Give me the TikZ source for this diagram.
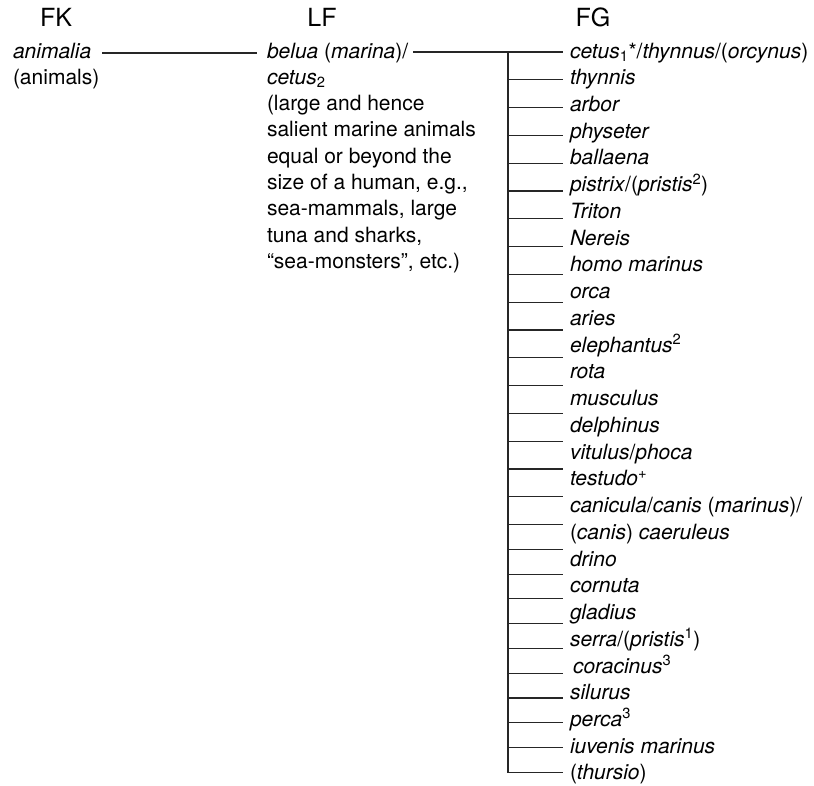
\documentclass[tikz,border=0pt]{standalone}
\usepackage{fontspec}
\setmainfont{TeX Gyre Heros}
\usetikzlibrary{calc}
\newcommand{\sups}[1]{\textsuperscript{\upshape #1}}
\newcommand{\subs}[1]{\textsubscript{\upshape #1}}
\begin{document}
\begin{tikzpicture}[x=1pt,y=-1pt,
  txt/.style={inner sep=0pt,outer sep=0pt,anchor=base west,font=\fontsize{21}{26}\selectfont,text=black},
  head/.style={inner sep=0pt,anchor=base,font=\fontsize{25}{30}\selectfont,text=black},
  conn/.style={draw=black!85,line width=1.1pt}]
\useasboundingbox (0,0) rectangle (814,785);
\def\rs{26.74}
\def\rb{58}
\def\ls{26.3}
% headers
\node[head] (hfk) at (56,26.7) {FK};
\node[head] (hlf) at (322,26.7) {LF};
\node[head] (hfg) at (593,26.7) {FG};
% FK column
\node[txt] (fk0) at (13,{\rb}) {\textit{animalia}};
\node[txt] (fk1) at (13,{\rb+\rs}) {(animals)};
% LF column
\node[txt] (lf0) at (267,{\rb}) {\textit{belua} (\textit{marina})/};
\node[txt] (lf1) at (267,{\rb+1*\ls}) {\textit{cetus}\subs{2}};
\node[txt] (lf2) at (267,{\rb+2*\ls}) {(large and hence};
\node[txt] (lf3) at (267,{\rb+3*\ls}) {salient marine animals};
\node[txt] (lf4) at (267,{\rb+4*\ls}) {equal or beyond the};
\node[txt] (lf5) at (267,{\rb+5*\ls}) {size of a human, e.g.,};
\node[txt] (lf6) at (267,{\rb+6*\ls}) {sea-mammals, large};
\node[txt] (lf7) at (267,{\rb+7*\ls}) {tuna and sharks,};
\node[txt] (lf8) at (267,{\rb+8*\ls}) {“sea-monsters”, etc.)};
% FG column
\foreach \i/\t in {
 0/{\textit{cetus}\subs{1}*/\textit{thynnus}/(\textit{orcynus})},
 1/{\textit{thynnis}},
 2/{\textit{arbor}},
 3/{\textit{physeter}},
 4/{\textit{ballaena}},
 5/{\textit{pistrix}/(\textit{pristis}\sups{2})},
 6/{\textit{Triton}},
 7/{\textit{Nereis}},
 8/{\textit{homo marinus}},
 9/{\textit{orca}},
 10/{\textit{aries}},
 11/{\textit{elephantus}\sups{2}},
 12/{\textit{rota}},
 13/{\textit{musculus}},
 14/{\textit{delphinus}},
 15/{\textit{vitulus}/\textit{phoca}},
 16/{\textit{testudo}\sups{+}},
 17/{\textit{canicula}/\textit{canis} (\textit{marinus})/},
 18/{(\textit{canis}) \textit{caeruleus}},
 19/{\textit{drino}},
 20/{\textit{cornuta}},
 21/{\textit{gladius}},
 22/{\textit{serra}/(\textit{pristis}\sups{1})},
 23/{\hspace{3pt}\textit{coracinus}\sups{3}},
 24/{\textit{silurus}},
 25/{\textit{perca}\sups{3}},
 26/{\textit{iuvenis marinus}},
 27/{(\textit{thursio})}} {
  \node[txt] (fg\i) at (570,{\rb+\i*\rs}) {\t};
  \pgfmathsetmacro{\ly}{\i<=17 ? 52+27.8*\i : 524.6+24.77*(\i-17)}
  \coordinate (tr\i) at (508,\ly);
  \coordinate (be\i) at (563,\ly);
}
% connectors
\coordinate (a0) at ($(fk0.base east)+(11,0)$);
\coordinate (a1) at ($(lf0.base west)+(-10,0)$);
\draw[conn] (a0 |- 0,53) -- (a1 |- 0,53);
\coordinate (b0) at ($(lf0.base east)+(5,0)$);
\draw[conn] (b0 |- tr0) -- (tr0) -- (be0);
\draw[conn] (tr0) -- (tr27) -- (be27);
\foreach \i in {1,...,26} {
  \draw[conn] (tr\i) -- (be\i);
}
\end{tikzpicture}
\end{document}
